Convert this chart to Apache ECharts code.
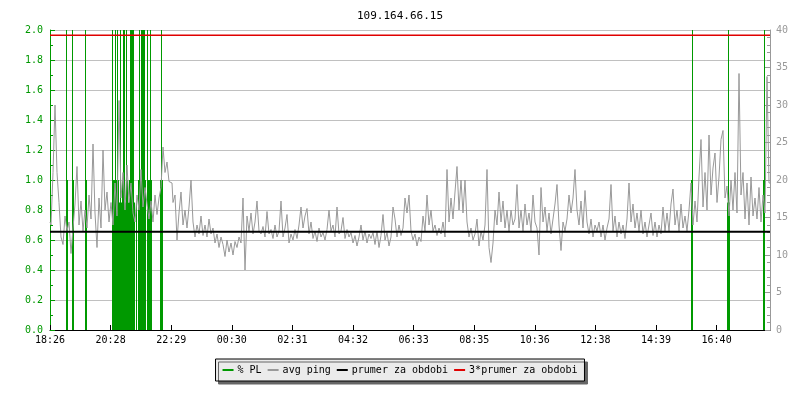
<!DOCTYPE html>
<html>
<head>
<meta charset="utf-8">
<script src="https://cdn.jsdelivr.net/npm/echarts@6/dist/echarts.min.js"></script>
<style>html,body{margin:0;padding:0;background:#fff}#c{width:800px;height:400px}</style>
</head>
<body>
<div id="c"></div>
<script>
// ---- data ----
const chartTitle = '109.164.66.15';
const tickLabels = ['18:26','20:28','22:29','00:30','02:31','04:32','06:33','08:35','10:36','12:38','14:39','16:40'];
const tickStepMin = 121.2;     // minutes between x tick labels
const spanMin = 1440;          // minutes shown
const pingStepMin = 4;         // minutes between avg ping samples
// avg ping (left axis), one value every 4 minutes starting at 18:26
const avgPing = [
  0.72,0.70,1.05,1.50,1.05,0.85,0.62,0.57,0.76,0.66,
  0.72,0.51,0.68,0.84,1.09,0.70,0.86,0.66,0.80,0.68,
  0.90,0.74,1.24,0.78,0.55,0.88,0.68,1.20,0.80,0.92,
  0.72,0.85,0.70,0.98,0.76,1.53,0.88,1.05,0.80,1.10,
  0.85,0.98,0.78,0.72,0.90,0.80,1.07,0.82,0.95,0.84,
  0.74,0.86,0.72,0.90,0.77,0.88,0.95,1.22,1.05,1.12,
  0.99,0.98,0.85,0.90,0.60,0.78,0.92,0.70,0.80,0.68,
  0.82,1.00,0.72,0.62,0.70,0.64,0.76,0.63,0.70,0.62,
  0.74,0.64,0.68,0.58,0.64,0.55,0.62,0.57,0.49,0.60,
  0.52,0.58,0.50,0.59,0.55,0.62,0.58,0.88,0.40,0.76,
  0.66,0.78,0.64,0.72,0.86,0.66,0.64,0.69,0.62,0.79,
  0.64,0.67,0.61,0.70,0.62,0.66,0.86,0.62,0.68,0.77,
  0.58,0.64,0.60,0.67,0.61,0.70,0.82,0.68,0.76,0.81,
  0.64,0.72,0.61,0.66,0.59,0.68,0.62,0.65,0.60,0.67,
  0.80,0.66,0.70,0.62,0.82,0.64,0.66,0.75,0.61,0.67,
  0.62,0.65,0.58,0.63,0.56,0.62,0.70,0.60,0.66,0.58,
  0.64,0.61,0.65,0.57,0.66,0.55,0.63,0.77,0.60,0.65,
  0.56,0.62,0.82,0.74,0.62,0.70,0.63,0.68,0.88,0.78,
  0.90,0.66,0.60,0.64,0.56,0.62,0.59,0.76,0.66,0.90,
  0.70,0.80,0.66,0.70,0.63,0.68,0.64,0.72,0.62,1.07,
  0.72,0.88,0.74,0.92,1.09,0.80,1.00,0.78,1.00,0.72,
  0.62,0.68,0.60,0.64,0.74,0.56,0.66,0.60,0.70,1.07,
  0.55,0.45,0.58,0.80,0.70,0.92,0.72,0.86,0.68,0.80,
  0.66,0.80,0.70,0.74,0.97,0.68,0.80,0.66,0.84,0.70,
  0.78,0.66,0.90,0.72,0.68,0.50,0.95,0.72,0.82,0.66,
  0.78,0.64,0.74,0.84,0.97,0.70,0.53,0.72,0.66,0.74,
  0.90,0.78,0.88,1.07,0.80,0.70,0.86,0.68,0.93,0.72,
  0.64,0.74,0.62,0.70,0.66,0.72,0.62,0.70,0.60,0.68,
  0.74,0.97,0.66,0.76,0.62,0.72,0.64,0.70,0.61,0.74,
  0.98,0.72,0.84,0.68,0.78,0.66,0.80,0.64,0.72,0.62,
  0.70,0.78,0.63,0.72,0.62,0.70,0.64,0.82,0.66,0.78,
  0.66,0.84,0.94,0.70,0.80,0.66,0.84,0.68,0.76,0.66,
  0.80,0.98,0.70,0.86,0.72,1.02,1.27,0.82,1.05,0.80,
  1.30,0.90,1.08,1.18,0.85,1.02,1.27,1.33,0.88,0.96,
  0.76,1.00,0.80,1.05,0.78,1.71,0.90,1.05,0.74,0.98,
  0.70,1.02,0.76,0.88,0.74,0.95,0.72,0.90,0.78,1.69,
  0.98
];
// packet loss (right axis, %): minute offsets and values
const plMinutes = [33,35,45,47,71,73,
  125,127,129,131,133,135,137,139,141,143,145,147,149,151,153,155,157,159,161,163,165,167,169,
  173,177,179,181,183,185,187,189,191,195,197,199,201,203,221,223,225,
  1283,1285,1355,1357,1359,1427,1429];
const plValues = [100,20,100,20,100,20,
  100,20,20,100,20,100,20,17,100,17,20,100,100,17,100,20,17,20,100,100,100,100,17,
  17,20,100,20,100,100,100,100,20,100,20,20,100,20,20,100,20,
  20,100,17,100,17,20,100];
const avgForPeriod = 0.655;      // prumer za obdobi
const tripleAvgForPeriod = 1.965; // 3*prumer za obdobi

// ---- chart ----
const mono = 'DejaVu Sans Mono';
const green = '#009900';
const pingData = avgPing.map((v, i) => [i * pingStepMin, v]);
const plData = plMinutes.map((m, i) => [m, plValues[i]]);

const chart = echarts.init(document.getElementById('c'), null, {renderer: 'canvas'});
chart.setOption({
  animation: false,
  backgroundColor: '#fff',
  title: {
    text: chartTitle, left: 'center', top: 6,
    textStyle: {fontFamily: mono, fontSize: 11, fontWeight: 'normal', color: '#000'}
  },
  legend: {
    top: 359, left: 'center',
    padding: [6, 7],
    itemGap: 6, itemWidth: 11, itemHeight: 2,
    icon: 'rect',
    backgroundColor: '#ebebeb', borderColor: '#000', borderWidth: 1, borderRadius: 0,
    shadowColor: '#666', shadowOffsetX: 3, shadowOffsetY: 3, shadowBlur: 0,
    textStyle: {fontFamily: mono, fontSize: 10, color: '#000', padding: [0,0,0,-1]},
    data: ['% PL', 'avg ping', 'prumer za obdobi', '3*prumer za obdobi']
  },
  grid: {left: 50, right: 30, top: 30, bottom: 70},
  xAxis: {
    type: 'value', min: 0, max: spanMin, interval: tickStepMin,
    axisLine: {lineStyle: {color: '#000', width: 1}},
    axisTick: {inside: true, length: 5, lineStyle: {color: '#000'}},
    splitLine: {show: false},
    axisLabel: {
      fontFamily: mono, fontSize: 10, color: '#000', margin: 5,
      showMaxLabel: false,
      formatter: v => {
        const i = Math.round(v / tickStepMin);
        return Math.abs(v - i * tickStepMin) < 0.5 ? (tickLabels[i] || '') : '';
      }
    }
  },
  yAxis: [{
    type: 'value', min: 0, max: 2, interval: 0.2, position: 'left',
    axisLine: {show: true, lineStyle: {color: green}},
    axisTick: {show: true, inside: true, length: 5, lineStyle: {color: green}},
    minorTick: {show: true, splitNumber: 2, length: 3, lineStyle: {color: green}},
    splitLine: {show: true, lineStyle: {color: '#c0c0c0', width: 1}},
    axisLabel: {fontFamily: mono, fontSize: 10, color: green, margin: 7, formatter: v => v.toFixed(1)}
  }, {
    type: 'value', min: 0, max: 40, interval: 5, position: 'right',
    axisLine: {show: true, lineStyle: {color: '#999'}},
    axisTick: {show: true, inside: true, length: 5, lineStyle: {color: '#999'}},
    minorTick: {show: true, splitNumber: 5, length: 3, lineStyle: {color: '#999'}},
    splitLine: {show: false},
    axisLabel: {fontFamily: mono, fontSize: 10, color: '#999', margin: 6}
  }],
  series: [{
    name: '% PL', type: 'bar', yAxisIndex: 1, barWidth: 1,
    itemStyle: {color: green}, clip: true, data: plData
  }, {
    name: 'avg ping', type: 'line', yAxisIndex: 0, showSymbol: false, symbol: 'none',
    step: 'middle',
    lineStyle: {color: '#999', width: 1}, itemStyle: {color: '#999'}, data: pingData
  }, {
    name: 'prumer za obdobi', type: 'line', showSymbol: false, symbol: 'none',
    lineStyle: {color: '#000', width: 2}, itemStyle: {color: '#000'},
    data: [[0, avgForPeriod], [spanMin, avgForPeriod]]
  }, {
    name: '3*prumer za obdobi', type: 'line', showSymbol: false, symbol: 'none',
    lineStyle: {color: '#e00000', width: 1.5}, itemStyle: {color: '#e00000'},
    data: [[0, tripleAvgForPeriod], [spanMin, tripleAvgForPeriod]]
  }]
});
</script>
</body>
</html>
